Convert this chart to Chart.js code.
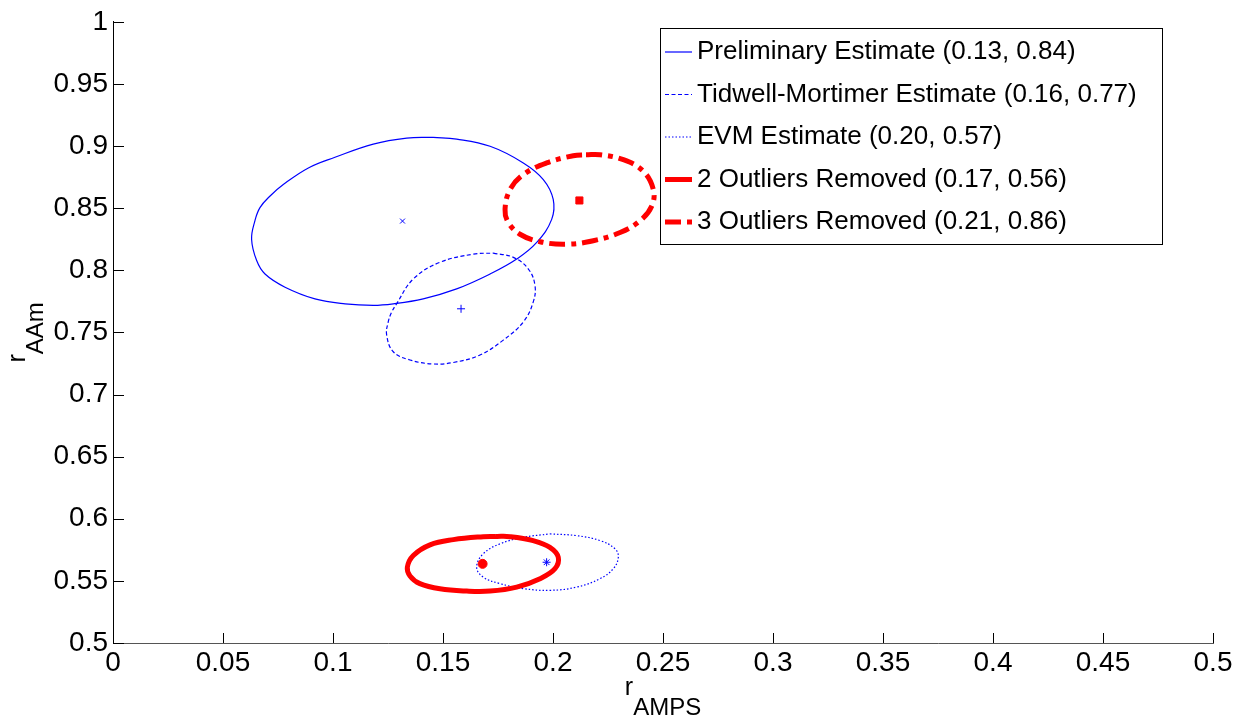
<!DOCTYPE html>
<html>
<head>
<meta charset="utf-8">
<script src="https://cdn.jsdelivr.net/npm/chart.js"></script>
<style>
  html, body { margin: 0; padding: 0; background: #fff; }
  #wrap { width: 1237px; height: 717px; }
</style>
</head>
<body>
<div id="wrap"><canvas id="myChart" width="1237" height="717"></canvas></div>
<script>
// tick values
const xTickVals = [0, 0.05, 0.1, 0.15, 0.2, 0.25, 0.3, 0.35, 0.4, 0.45, 0.5]
const yTickVals = [0.5, 0.55, 0.6, 0.65, 0.7, 0.75, 0.8, 0.85, 0.9, 0.95, 1]

const seriesLabels = [
  'Preliminary Estimate (0.13, 0.84)',
  'Tidwell-Mortimer Estimate (0.16, 0.77)',
  'EVM Estimate (0.20, 0.57)',
  '2 Outliers Removed (0.17, 0.56)',
  '3 Outliers Removed (0.21, 0.86)'
]

// outlines, [r_AMPS, r_AAm], each closed on itself
const prelimRing = [
  [0.1456, 0.9070], [0.1562, 0.9056], [0.1714, 0.8998], [0.1865, 0.8864], [0.1956, 0.8730],
  [0.2001, 0.8570], [0.1994, 0.8410], [0.1926, 0.8224], [0.1835, 0.8090], [0.1714, 0.7970],
  [0.1562, 0.7850], [0.1410, 0.7770], [0.1274, 0.7730], [0.1183, 0.7718], [0.1055, 0.7730],
  [0.0918, 0.7770], [0.0782, 0.7864], [0.0691, 0.7970], [0.0653, 0.8078], [0.0630, 0.8250],
  [0.0645, 0.8398], [0.0668, 0.8504], [0.0714, 0.8598], [0.0774, 0.8690], [0.0888, 0.8824],
  [0.1009, 0.8910], [0.1183, 0.9016], [0.1335, 0.9064], [0.1456, 0.9070]
]
const tidwellRing = [
  [0.1729, 0.8138], [0.1820, 0.8104], [0.1888, 0.8010], [0.1918, 0.7878], [0.1910, 0.7744],
  [0.1865, 0.7584], [0.1774, 0.7438], [0.1668, 0.7318], [0.1547, 0.7258], [0.1456, 0.7246],
  [0.1350, 0.7278], [0.1274, 0.7344], [0.1244, 0.7478], [0.1251, 0.7584], [0.1267, 0.7664],
  [0.1289, 0.7730], [0.1365, 0.7930], [0.1486, 0.8064], [0.1638, 0.8130], [0.1729, 0.8138]
]
const evmRing = [
  [0.1986, 0.5878], [0.2108, 0.5864], [0.2214, 0.5824], [0.2282, 0.5758], [0.2297, 0.5690],
  [0.2274, 0.5598], [0.2214, 0.5518], [0.2108, 0.5450], [0.1986, 0.5424], [0.1865, 0.5438],
  [0.1759, 0.5478], [0.1683, 0.5530], [0.1653, 0.5610], [0.1683, 0.5718], [0.1759, 0.5798],
  [0.1865, 0.5850], [0.1986, 0.5878]
]
const out2Ring = [
  [0.1740, 0.5858], [0.1805, 0.5856], [0.1910, 0.5824], [0.1986, 0.5770], [0.2024, 0.5690],
  [0.2009, 0.5598], [0.1941, 0.5518], [0.1835, 0.5450], [0.1714, 0.5418], [0.1608, 0.5418],
  [0.1486, 0.5436], [0.1395, 0.5478], [0.1350, 0.5540], [0.1338, 0.5610], [0.1365, 0.5704],
  [0.1441, 0.5790], [0.1547, 0.5832], [0.1683, 0.5856], [0.1740, 0.5858]
]
const out3Ring = [
  [0.2150, 0.8930], [0.2214, 0.8930], [0.2320, 0.8890], [0.2410, 0.8798], [0.2456, 0.8650],
  [0.2449, 0.8518], [0.2395, 0.8398], [0.2305, 0.8304], [0.2183, 0.8238], [0.2062, 0.8210],
  [0.1941, 0.8230], [0.1850, 0.8290], [0.1797, 0.8384], [0.1782, 0.8490], [0.1805, 0.8650],
  [0.1865, 0.8770], [0.1971, 0.8864], [0.2092, 0.8922], [0.2150, 0.8930]
]

// centre estimates
const centerX = [0.1316, 0.1582, 0.1971, 0.1680, 0.2120]
const centerY = [0.8396, 0.7690, 0.5650, 0.5637, 0.8562]

const BLUE = '#0000ff'
const RED = '#ff0000'
const FONT = "'Liberation Sans', Arial, sans-serif"

const toPts = arr => arr.map(p => ({ x: p[0], y: p[1] }))

const ringStyles = [
  { color: BLUE, width: 1.2, dash: [], order: 3 },
  { color: BLUE, width: 1.2, dash: [4, 2.5], order: 3 },
  { color: BLUE, width: 1.2, dash: [1.5, 2], order: 3 },
  { color: RED, width: 5, dash: [], order: 2 },
  { color: RED, width: 5, dash: [16, 6, 5, 6], order: 2 }
]
const markerStyles = [
  { style: 'crossRot', r: 3.5, color: BLUE },
  { style: 'cross', r: 4, color: BLUE },
  { style: 'star', r: 4, color: BLUE },
  { style: 'circle', r: 4.5, color: RED },
  { style: 'rect', r: 5, color: RED }
]
const rings = [prelimRing, tidwellRing, evmRing, out2Ring, out3Ring]

const datasets = []
rings.forEach((ring, i) => {
  const s = ringStyles[i]
  datasets.push({
    label: seriesLabels[i],
    data: toPts(ring),
    showLine: true,
    borderColor: s.color,
    backgroundColor: s.color,
    borderWidth: s.width,
    borderDash: s.dash,
    borderCapStyle: 'butt',
    tension: 0.4,
    pointRadius: 0,
    fill: false,
    order: s.order,
    isLegend: true
  })
})
centerX.forEach((cx, i) => {
  const m = markerStyles[i]
  datasets.push({
    label: 'centre ' + i,
    data: [{ x: cx, y: centerY[i] }],
    showLine: false,
    pointStyle: m.style,
    pointRadius: m.r,
    borderColor: m.color,
    backgroundColor: m.color,
    borderWidth: 1,
    order: 1
  })
})

// inward ticks, axis titles and the boxed legend (MATLAB look)
const matlabBits = {
  id: 'matlabBits',
  afterDraw(chart) {
    const ctx = chart.ctx
    const xs = chart.scales.x, ys = chart.scales.y
    const a = chart.chartArea
    ctx.save()
    ctx.lineWidth = 1
    ctx.strokeStyle = '#000'
    ctx.beginPath()
    xTickVals.forEach(v => {
      const px = Math.round(xs.getPixelForValue(v)) + 0.5
      ctx.moveTo(px, a.bottom)
      ctx.lineTo(px, a.bottom - 10)
    })
    yTickVals.forEach(v => {
      const py = Math.round(ys.getPixelForValue(v)) + 0.5
      ctx.moveTo(a.left, py)
      ctx.lineTo(a.left + 11, py)
    })
    ctx.stroke()

    // x title r_AMPS
    ctx.fillStyle = '#000'
    ctx.textBaseline = 'alphabetic'
    ctx.textAlign = 'left'
    const mainF = '25px ' + FONT, subF = '24px ' + FONT
    ctx.font = mainF
    const rw = ctx.measureText('r').width
    ctx.font = subF
    const sw = ctx.measureText('AMPS').width
    let x0 = (a.left + a.right) / 2 - (rw + sw) / 2
    ctx.font = mainF
    ctx.fillText('r', x0, 695)
    ctx.font = subF
    ctx.fillText('AMPS', x0 + rw, 715)

    // y title r_AAm
    ctx.save()
    ctx.translate(25, (a.top + a.bottom) / 2)
    ctx.rotate(-Math.PI / 2)
    ctx.font = subF
    const sw2 = ctx.measureText('AAm').width
    x0 = -(rw + sw2) / 2
    ctx.font = mainF
    ctx.fillText('r', x0, 0)
    ctx.font = subF
    ctx.fillText('AAm', x0 + rw, 18)
    ctx.restore()

    // legend
    const lx = 660.5, ly = 28.5, lw = 502, lh = 216
    ctx.fillStyle = '#fff'
    ctx.fillRect(lx, ly, lw, lh)
    ctx.strokeStyle = '#000'
    ctx.lineWidth = 1
    ctx.strokeRect(lx, ly, lw, lh)
    ctx.font = '26px ' + FONT
    ctx.textBaseline = 'middle'
    chart.data.datasets.filter(d => d.isLegend).forEach((d, i) => {
      const yy = 52 + i * 42.5
      ctx.save()
      ctx.strokeStyle = d.borderColor
      ctx.lineWidth = d.borderWidth
      ctx.setLineDash(d.borderDash)
      ctx.lineCap = 'butt'
      ctx.beginPath()
      ctx.moveTo(665, yy)
      ctx.lineTo(692, yy)
      ctx.stroke()
      ctx.restore()
      ctx.fillStyle = '#000'
      ctx.fillText(d.label, 697, yy)
    })
    ctx.restore()
  }
}

const fmt = v => String(Math.round(v * 100) / 100)

new Chart(document.getElementById('myChart'), {
  type: 'scatter',
  data: { datasets: datasets },
  options: {
    responsive: false,
    animation: false,
    layout: { padding: { top: 18, right: 24, left: 0, bottom: 0 } },
    plugins: { legend: { display: false }, tooltip: { enabled: false } },
    scales: {
      x: {
        type: 'linear',
        min: 0,
        max: 0.5,
        afterBuildTicks: s => { s.ticks = xTickVals.map(v => ({ value: v })) },
        afterFit: s => { s.height = 74 },
        grid: { display: false, drawTicks: false },
        border: { display: true, color: '#555', width: 1 },
        ticks: { color: '#000', font: { family: FONT, size: 28 }, padding: 3, maxRotation: 0, autoSkip: false, callback: fmt }
      },
      y: {
        type: 'linear',
        min: 0.5,
        max: 1,
        afterBuildTicks: s => { s.ticks = yTickVals.map(v => ({ value: v })) },
        afterFit: s => { s.width = 113 },
        grid: { display: false, drawTicks: false },
        border: { display: true, color: '#000', width: 1 },
        ticks: { color: '#000', font: { family: FONT, size: 28 }, padding: 5, autoSkip: false, callback: fmt }
      }
    }
  },
  plugins: [matlabBits]
})
</script>
</body>
</html>
